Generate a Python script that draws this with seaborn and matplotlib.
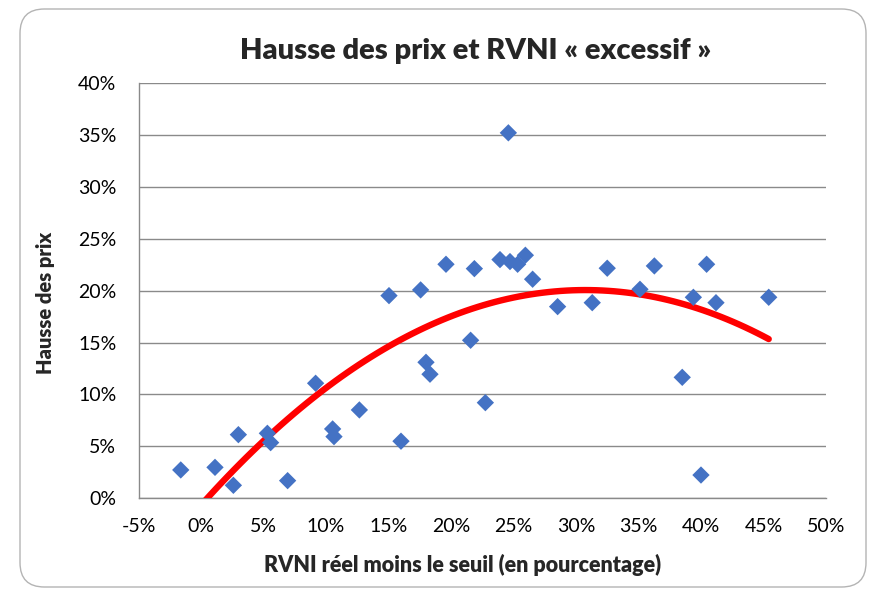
import matplotlib
matplotlib.use("Agg")
import matplotlib.pyplot as plt
from matplotlib.patches import FancyBboxPatch
from matplotlib.ticker import FuncFormatter, MultipleLocator
import numpy as np
import pandas as pd
import seaborn as sns

# RVNI réel moins le seuil (fraction) and price rise (fraction)
rvni_gap = [-0.0162, 0.0112, 0.0259, 0.0299, 0.0531, 0.0557, 0.0693, 0.0917,
            0.1053, 0.1064, 0.1267, 0.1504, 0.1600, 0.1757, 0.1800, 0.1832,
            0.1960, 0.2157, 0.2187, 0.2275, 0.2392, 0.2459, 0.2472, 0.2533,
            0.2595, 0.2653, 0.2853, 0.3130, 0.3250, 0.3512, 0.3627, 0.3850,
            0.3939, 0.4000, 0.4045, 0.4120, 0.4542]
price_rise = [0.0273, 0.0298, 0.0125, 0.0613, 0.0626, 0.0536, 0.0170, 0.1108,
              0.0668, 0.0594, 0.0851, 0.1952, 0.0550, 0.2007, 0.1310, 0.1195,
              0.2254, 0.1522, 0.2212, 0.0921, 0.2299, 0.3520, 0.2280, 0.2254,
              0.2341, 0.2110, 0.1846, 0.1884, 0.2216, 0.2013, 0.2238, 0.1165,
              0.1936, 0.0224, 0.2254, 0.1884, 0.1936]

df = pd.DataFrame({"gap": rvni_gap, "rise": price_rise})

sns.set_style("white")
plt.rcParams["font.family"] = ["Lato", "DejaVu Sans"]

fig = plt.figure(figsize=(8.70, 5.89), dpi=100)
ax = fig.add_axes([0.1592, 0.154, 0.7902, 0.7051])

# rounded chart frame
frame = FancyBboxPatch((20 / 870, 2 / 589), 846 / 870, 578 / 589,
                       boxstyle="round,pad=0,rounding_size=0.028",
                       transform=fig.transFigure, facecolor="none",
                       edgecolor="#b4b4b4", linewidth=1.0, zorder=0,
                       mutation_aspect=870 / 589)
fig.patches.append(frame)

# second-order polynomial trend through the points
sns.regplot(data=df, x="gap", y="rise", order=2, ci=None, scatter=False,
            truncate=True, ax=ax,
            line_kws={"color": "#ff0000", "linewidth": 4.6,
                      "solid_capstyle": "round", "zorder": 3})
sns.scatterplot(data=df, x="gap", y="rise", marker="D", s=78,
                color="#4472c4", edgecolor="none", ax=ax, zorder=4)

ax.set_xlim(-0.05, 0.50)
ax.set_ylim(0.0, 0.40)
ax.xaxis.set_major_locator(MultipleLocator(0.05))
ax.yaxis.set_major_locator(MultipleLocator(0.05))
pct = FuncFormatter(lambda v, _: f"{v * 100:.0f}%")
ax.xaxis.set_major_formatter(pct)
ax.yaxis.set_major_formatter(pct)

ax.grid(axis="y", color="#8a8a8a", linewidth=1.0)
ax.grid(axis="x", visible=False)
ax.set_axisbelow(True)
for side in ("top", "right"):
    ax.spines[side].set_visible(False)
for side in ("left", "bottom"):
    ax.spines[side].set_color("#8a8a8a")
    ax.spines[side].set_linewidth(1.0)
ax.tick_params(axis="both", direction="out", length=5.5, width=1,
               color="#8a8a8a", labelsize=14, labelcolor="#000000")
ax.tick_params(axis="y", pad=10.5)
ax.tick_params(axis="x", pad=9)
ax.set_xlabel("")
ax.set_ylabel("")

fig.text(0.5471, 0.8993, "Hausse des prix et RVNI « excessif »", ha="center",
         va="baseline", fontsize=21, fontweight="heavy")
fig.text(0.5316, 0.0294, "RVNI réel moins le seuil (en pourcentage)",
         ha="center", va="baseline", fontsize=15.5, fontweight="heavy")
fig.text(0.0594, 0.4856, "Hausse des prix", ha="center", va="baseline",
         rotation=90, rotation_mode="anchor", fontsize=14.5,
         fontweight="heavy")

fig.savefig("out.png", dpi=100)
